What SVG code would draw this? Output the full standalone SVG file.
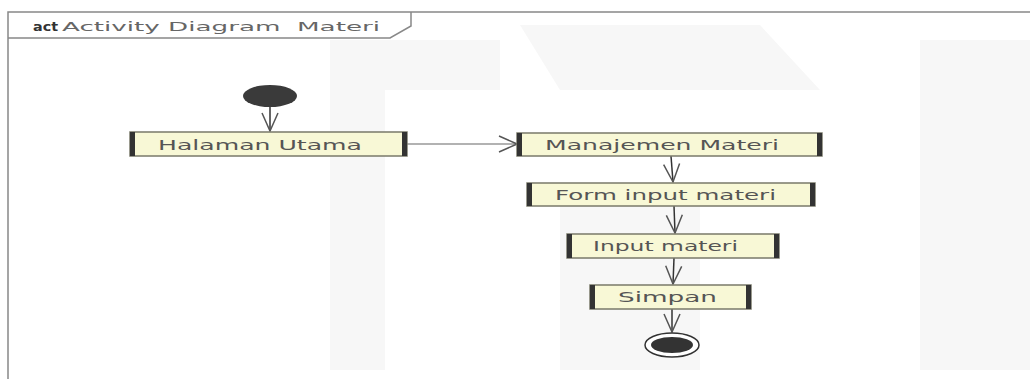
<svg xmlns="http://www.w3.org/2000/svg" width="1030" height="379" viewBox="0 0 1030 379">
<defs>
<style>
.frame{fill:none;stroke:#888;stroke-width:1.5}
.act{fill:#f8f8d6;stroke:#7a7a6a;stroke-width:1.5}
.bar{fill:#333}
.lbl{font-family:"DejaVu Sans","Verdana",sans-serif;font-size:14px;fill:#555}
.edge{fill:none;stroke:#333;stroke-width:1.5}
.hedge{fill:none;stroke:#999;stroke-width:1.5}
.wm{fill:#f7f7f7}
</style>
<marker id="open" viewBox="0 0 20 20" refX="19" refY="10" markerWidth="20" markerHeight="20" markerUnits="userSpaceOnUse" orient="auto">
<path d="M1,2 L19,10 L1,18" fill="none" stroke="#555" stroke-width="1.5"/>
</marker>
</defs>
<rect width="1030" height="379" fill="#ffffff"/>
<g id="watermark">
<path class="wm" d="M330,40 L500,40 L500,90 L385,90 L385,370 L330,370 Z"/>
<path class="wm" d="M520,25 L760,25 L820,90 L560,90 Z"/>
<path class="wm" d="M920,40 L1030,40 L1030,370 L920,370 Z"/>
<path class="wm" d="M560,200 L700,200 L700,370 L560,370 Z"/>
</g>
<g id="frame">
<path class="frame" d="M8,379 L8,12 L1030,12"/>
<path class="frame" d="M8,38 L390,38 L411,26 L411,12"/>
<text x="33" y="31" font-family="DejaVu Sans,Verdana,sans-serif" font-size="13" font-weight="bold" fill="#333" textLength="25" lengthAdjust="spacingAndGlyphs">act</text>
<text x="62" y="31" xml:space="preserve" font-family="DejaVu Sans,Verdana,sans-serif" font-size="12" fill="#666" textLength="318" lengthAdjust="spacingAndGlyphs">Activity Diagram  Materi</text>
</g>
<g id="connectors">
<path class="edge" d="M270,107 L270,131" marker-end="url(#open)"/>
<path class="hedge" d="M407,144 L517,144" marker-end="url(#open)"/>
<path class="edge" d="M671,156 L673,182" marker-end="url(#open)"/>
<path class="edge" d="M674,206 L675,233" marker-end="url(#open)"/>
<path class="edge" d="M674,258 L673,284" marker-end="url(#open)"/>
<path class="edge" d="M672,309 L672,332" marker-end="url(#open)"/>
</g>
<g id="start">
<ellipse cx="270" cy="96" rx="27" ry="11" fill="#3a3a3a"/>
</g>
<g id="halaman-utama">
<rect class="act" x="130" y="132" width="277" height="24"/>
<rect class="bar" x="130" y="132" width="5" height="24"/>
<rect class="bar" x="402" y="132" width="5" height="24"/>
<text class="lbl" x="158" y="150" textLength="204" lengthAdjust="spacingAndGlyphs">Halaman Utama</text>
</g>
<g id="manajemen-materi">
<rect class="act" x="517" y="133" width="305" height="23"/>
<rect class="bar" x="517" y="133" width="5" height="23"/>
<rect class="bar" x="817" y="133" width="5" height="23"/>
<text class="lbl" x="545" y="150" textLength="234" lengthAdjust="spacingAndGlyphs">Manajemen Materi</text>
</g>
<g id="form-input-materi">
<rect class="act" x="527" y="183" width="288" height="23"/>
<rect class="bar" x="527" y="183" width="5" height="23"/>
<rect class="bar" x="810" y="183" width="5" height="23"/>
<text class="lbl" x="555" y="200" textLength="221" lengthAdjust="spacingAndGlyphs">Form input materi</text>
</g>
<g id="input-materi">
<rect class="act" x="567" y="234" width="212" height="24"/>
<rect class="bar" x="567" y="234" width="5" height="24"/>
<rect class="bar" x="774" y="234" width="5" height="24"/>
<text class="lbl" x="593" y="251" textLength="145" lengthAdjust="spacingAndGlyphs">Input materi</text>
</g>
<g id="simpan">
<rect class="act" x="590" y="285" width="161" height="24"/>
<rect class="bar" x="590" y="285" width="5" height="24"/>
<rect class="bar" x="746" y="285" width="5" height="24"/>
<text class="lbl" x="618" y="302" textLength="99" lengthAdjust="spacingAndGlyphs">Simpan</text>
</g>
<g id="end">
<ellipse cx="672" cy="345" rx="27" ry="12" fill="#fff" stroke="#333" stroke-width="1.5"/>
<ellipse cx="672" cy="345" rx="21" ry="8" fill="#333"/>
</g>
</svg>
